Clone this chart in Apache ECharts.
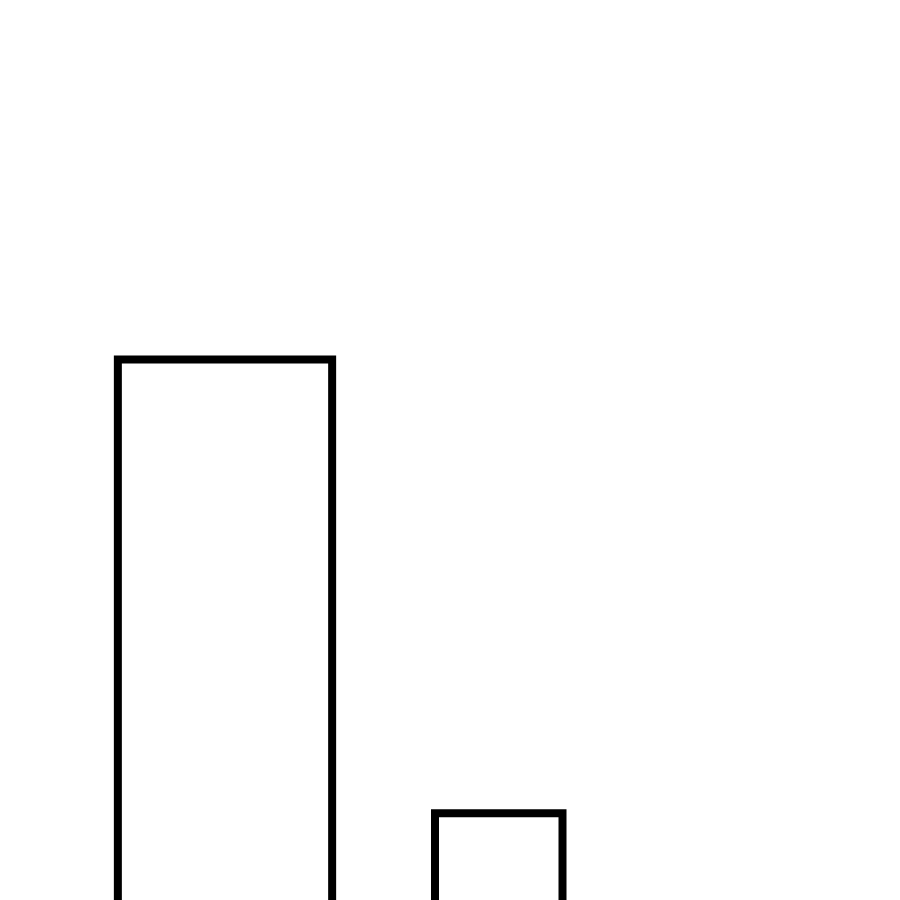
<!DOCTYPE html>
<html>
<head>
<meta charset="utf-8">
<style>
  html, body { margin: 0; padding: 0; background: #ffffff; overflow: hidden; width: 900px; height: 900px; }
  #wrap { position: relative; width: 900px; height: 900px; overflow: hidden; }
  #chart { position: absolute; left: 0; top: -94px; width: 900px; height: 1200px; }
</style>
<script src="https://cdn.jsdelivr.net/npm/echarts@6/dist/echarts.min.js"></script>
</head>
<body>
<div id="wrap"><div id="chart"></div></div>
<script>
// Bar extents along the x axis (start, end) and bar heights
const binStart = [5.5, 20.3];
const binEnd = [15.5, 26.25];
const heights = [3, 1];

const data = binStart.map((s, i) => [s, binEnd[i], heights[i]]);

const chart = echarts.init(document.getElementById('chart'), null, { renderer: 'canvas' });
chart.setOption({
  backgroundColor: '#ffffff',
  animation: false,
  grid: { left: 0, right: 0, top: 0, bottom: 66 },
  xAxis: { type: 'value', min: 0, max: 42, show: false },
  yAxis: { type: 'value', min: 0, max: 5, show: false },
  series: [{
    type: 'custom',
    clip: false,
    data: data,
    renderItem: function (params, api) {
      const p0 = api.coord([api.value(0), api.value(2)]);
      const p1 = api.coord([api.value(1), 0]);
      return {
        type: 'rect',
        shape: { x: p0[0], y: p0[1], width: p1[0] - p0[0], height: p1[1] - p0[1] },
        style: { fill: 'none', stroke: '#000000', lineWidth: 8 }
      };
    }
  }]
});
</script>
</body>
</html>
